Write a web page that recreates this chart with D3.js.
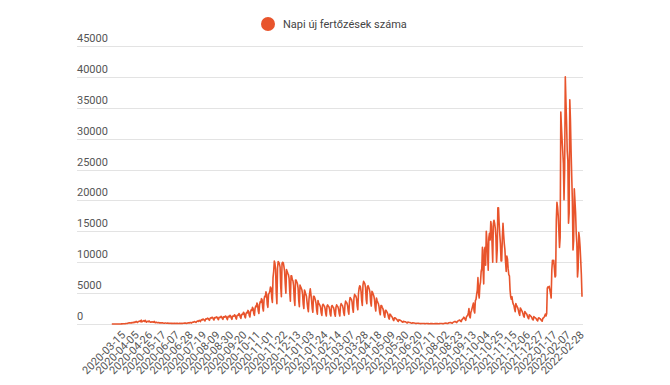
<!DOCTYPE html>
<html>
<head>
<meta charset="utf-8">
<script src="https://cdn.jsdelivr.net/npm/d3@7"></script>
<style>
  html, body { margin: 0; padding: 0; background: #fff; }
  svg { display: block; font-family: Roboto, "Noto Sans", Arial, sans-serif; }
</style>
</head>
<body>
<svg id="chart" width="670" height="385"></svg>
<script>
const seriesName = "Napi új fertőzések száma";
const startDate = "2020-02-26";
const endDate = "2022-02-28";
const missingDates = ["2021-07-20"];

const yTicks = [0, 5000, 10000, 15000, 20000, 25000, 30000, 35000, 40000, 45000];

const xTickLabels = [
  "2020-03-15","2020-04-05","2020-04-26","2020-05-17","2020-06-07","2020-06-28",
  "2020-07-19","2020-08-09","2020-08-30","2020-09-20","2020-10-11","2020-11-01",
  "2020-11-22","2020-12-13","2021-01-03","2021-01-24","2021-02-14","2021-03-07",
  "2021-03-28","2021-04-18","2021-05-09","2021-05-30","2021-06-20","2021-07-11",
  "2021-08-02","2021-08-23","2021-09-13","2021-10-04","2021-10-25","2021-11-15",
  "2021-12-06","2021-12-27","2022-01-17","2022-02-07","2022-02-28"
];

// daily values, one row per week
const dailyCases = [
  0,0,0,0,0,0,0,
  0,1,1,2,2,4,7,
  9,13,19,30,32,39,50,
  60,73,85,103,131,160,187,
  150,180,220,160,250,200,280,
  300,260,350,420,300,250,380,
  400,450,500,380,620,350,420,
  480,550,420,600,380,300,450,
  420,380,500,350,300,280,350,
  300,350,280,420,250,220,300,
  260,220,200,240,180,150,200,
  180,160,200,150,130,120,160,
  150,130,120,160,110,100,130,
  120,100,130,90,110,80,100,
  100,90,120,80,110,70,90,
  100,110,90,120,80,100,130,
  120,140,110,160,130,100,150,
  180,200,160,250,220,150,260,
  300,280,350,400,320,250,380,
  450,500,420,600,520,400,650,
  700,650,800,750,600,500,780,
  850,800,950,900,700,600,900,
  1000,950,1100,1050,800,650,1000,
  1050,1000,1150,1100,850,700,1100,
  1100,1050,1250,1150,900,750,1150,
  1150,1100,1300,1200,900,700,1200,
  1250,1150,1400,1300,950,750,1250,
  1300,1250,1500,1400,1000,800,1350,
  1450,1400,1700,1550,1100,900,1500,
  1600,1550,1900,1750,1200,1000,1700,
  1900,1800,2200,2000,1400,1150,2000,
  2300,2200,2700,2500,1700,1400,2500,
  2900,2800,3400,3100,2100,1700,3100,
  3600,3500,4100,3900,2600,2100,3900,
  4500,4400,5200,4800,3200,2700,4800,
  5000,5300,6000,5800,4200,3500,7500,
  8500,10200,9800,8800,5000,3300,9000,
  10100,10000,9700,9200,6000,4400,9800,
  10000,9900,9300,8500,6500,5000,8800,
  8500,8200,8000,7400,5200,3700,7800,
  7800,7200,7000,6200,4000,3000,7100,
  7100,6800,6500,5800,3800,2800,6300,
  6000,5800,5500,4800,3200,2500,5500,
  5200,4800,4500,3500,2600,2000,4000,
  5000,5700,4800,3800,2500,1900,4500,
  4500,4200,3800,3300,2200,1600,3800,
  3400,3200,3000,2700,1800,1400,3000,
  3200,3000,2900,2500,1700,1300,2900,
  3100,2900,2800,2400,1600,1300,2800,
  3000,2800,2700,2300,1600,1250,2700,
  3100,2900,2800,2400,1700,1300,2900,
  3300,3100,3000,2600,1800,1400,3100,
  3700,3500,3400,3000,2100,1600,3600,
  4300,4100,4000,3600,2500,1900,4200,
  4800,4600,4500,4100,2900,2300,4900,
  5800,6200,6000,5300,3800,3000,6300,
  6900,6700,6500,5900,4000,3300,6000,
  6200,5900,5600,5000,3500,2900,5300,
  5100,4800,4500,3900,2700,2100,4200,
  3800,3500,3300,2800,1900,1500,3000,
  3000,2700,2500,2100,1400,1100,2200,
  2200,2000,1800,1500,1000,800,1600,
  1500,1300,1200,1000,700,550,1000,
  1000,900,800,700,500,400,700,
  650,600,550,450,350,280,450,
  420,380,350,300,220,180,300,
  280,250,230,200,150,120,200,
  180,160,150,130,100,80,130,
  120,110,100,90,70,60,90,
  90,80,80,70,60,50,70,
  70,70,60,60,50,40,60,
  60,60,55,50,40,35,55,
  60,65,60,55,45,40,60,
  80,85,90,80,60,50,90,
  120,130,150,130,100,80,150,
  200,220,250,230,160,120,250,
  300,350,400,380,280,220,420,
  500,550,650,600,450,380,700,
  800,900,1100,1000,750,600,1100,
  1300,1400,1800,2500,1200,1000,1900,
  2200,2600,3000,3400,2100,1800,3800,
  4000,4800,5500,7500,5000,4200,6200,
  6800,8500,9000,12400,8700,6500,12000,
  12400,9500,15000,13500,11500,8700,14000,
  14700,13600,16600,15800,13000,10000,16300,
  16800,16300,15500,14000,10000,12000,18800,
  18800,16300,14500,13000,10200,10200,14000,
  16300,14500,13000,12000,10000,8500,11000,
  10500,9000,8000,7800,5500,4400,4000,
  4400,3600,3200,3000,2400,2000,3300,
  3000,2800,2600,2200,1700,1400,2600,
  2400,2200,2000,1700,1300,1100,2000,
  1900,1700,1600,1300,1000,850,1500,
  1400,1300,1200,1000,750,650,1200,
  1100,1000,950,800,600,500,950,
  1000,900,850,700,550,450,900,
  1000,1100,1300,1600,1300,1700,5800,
  6000,5900,6100,5500,4900,4200,8700,
  10300,9800,10300,9000,7600,7800,16800,
  19700,18900,17500,15000,12400,14000,34300,
  31900,29800,28000,26000,20100,25000,40000,
  36000,32400,28000,26400,16300,18000,36300,
  33000,28000,23900,20000,12000,13500,21900,
  20000,18000,14700,13000,7600,9000,14800,
  14000,12500,10300,8000,4400
];

// build category dates
const fmt = d3.timeFormat("%Y-%m-%d");
const parse = d3.timeParse("%Y-%m-%d");
const end = d3.timeDay.offset(parse(endDate), 1);
const dates = d3.timeDay.range(parse(startDate), end).map(fmt).filter(d => !missingDates.includes(d));
const n = Math.min(dates.length, dailyCases.length);
const data = d3.range(n).map(i => ({ date: dates[i], value: dailyCases[i], i }));

const svg = d3.select("#chart");
const color = "#e8542c";
const left = 77, right = 583;

const x = d3.scaleLinear().domain([0, n - 1]).range([111.8, 582]);
const y = d3.scaleLinear().domain([0, 45000]).range([324, 46]);

// gridlines + y labels
const yg = svg.append("g");
yg.selectAll("line").data(yTicks).join("line")
  .attr("x1", left).attr("x2", right)
  .attr("y1", d => Math.round(y(d)) + 0.5).attr("y2", d => Math.round(y(d)) + 0.5)
  .attr("stroke", "#e3e3e3").attr("stroke-width", 1);
yg.selectAll("text").data(yTicks).join("text")
  .attr("x", left).attr("y", d => y(d) - 4)
  .attr("font-size", 11).attr("fill", "#555")
  .text(d => d);

// line
svg.append("path").datum(data)
  .attr("fill", "none").attr("stroke", color).attr("stroke-width", 1.6)
  .attr("stroke-linejoin", "round")
  .attr("d", d3.line().x(d => x(d.i)).y(d => y(d.value)));

// x labels
svg.append("g").selectAll("text").data(xTickLabels).join("text")
  .attr("transform", d => `translate(${x(dates.indexOf(d))},333) rotate(-45)`)
  .attr("text-anchor", "end").attr("dy", "0.35em")
  .attr("font-size", 11).attr("fill", "#555")
  .text(d => d);

// legend
svg.append("circle").attr("cx", 268).attr("cy", 24).attr("r", 7).attr("fill", color);
svg.append("text").attr("x", 283).attr("y", 28)
  .attr("font-size", 11).attr("fill", "#444").text(seriesName);
</script>
</body>
</html>
